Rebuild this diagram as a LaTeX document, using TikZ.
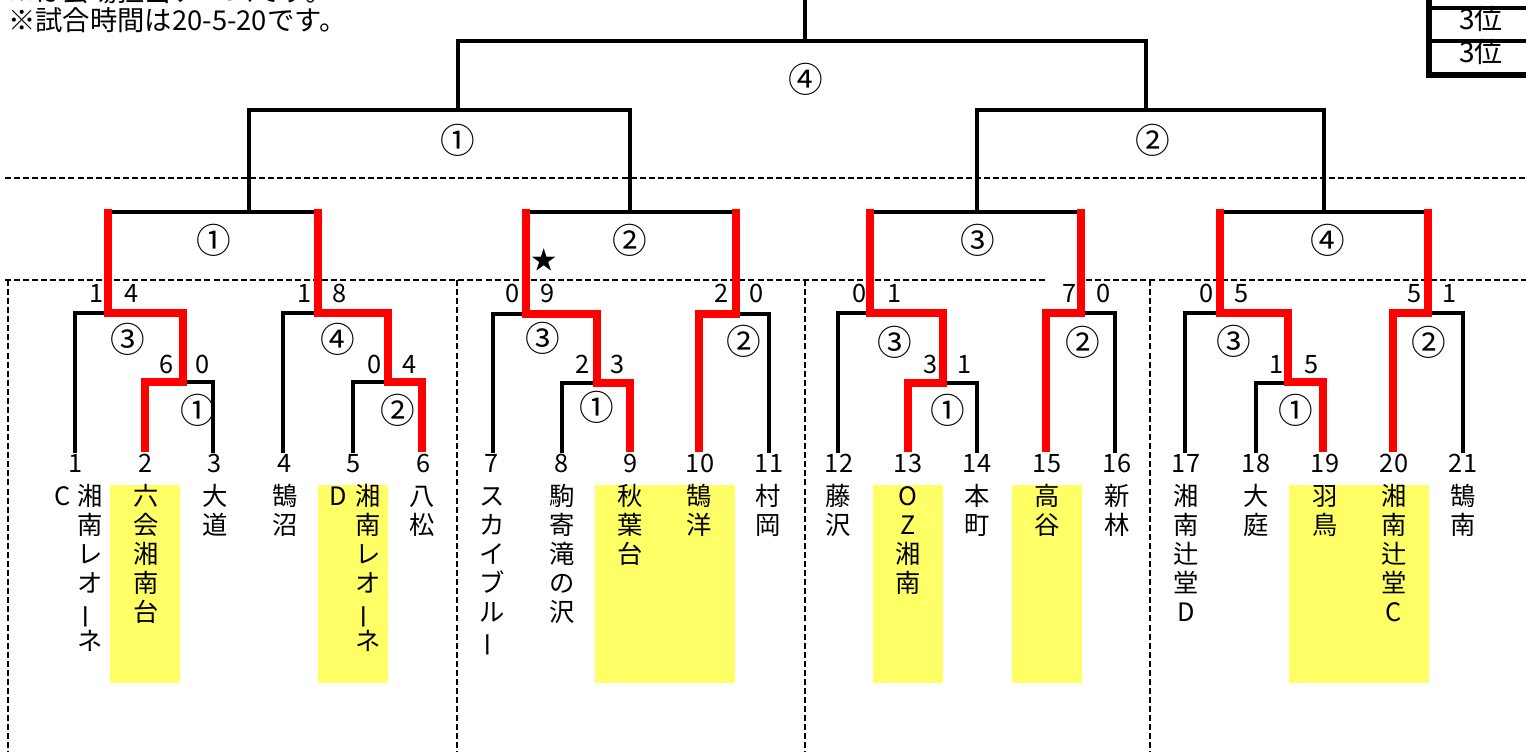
\documentclass[tikz,border=0pt]{standalone}
\usepackage{fontspec}
\setmainfont{Noto Sans CJK JP}
\newcommand\vcol[4]{%
  \foreach \ch [count=\k from 0] in {#4} {\node[tn] (#1-\k) at (#2,{#3+29*\k}) {\ch};}}
\begin{document}
\begin{tikzpicture}[x=0.75pt,y=-0.75pt,
  blk/.style={line width=2.4pt,line join=miter},
  rd/.style={line width=5.5pt,red,line join=miter},
  dsh/.style={line width=2.2pt,dash pattern=on 4.5pt off 2.3pt},
  tn/.style={inner sep=0pt,text height=0.88em,text depth=0.12em,font=\fontsize{19}{19}\selectfont},
  num/.style={tn},
  circ/.style={inner sep=0pt,text height=0.88em,text depth=0.12em,font=\fontsize{26}{26}\selectfont}]
\useasboundingbox (0,0) rectangle (1526,751);
\fill[white] (0,0) rectangle (1526,751);
% highlight boxes
\foreach \a/\b in {110/180,318/388,595/735,873/943,1012/1082,1289/1429}
  \fill[fill={rgb,255:red,255;green,255;blue,102}] (\a,485) rectangle (\b,683);
% notes
\node[anchor=west,tn,font=\fontsize{20.5}{20.5}\selectfont] (note0) at (8,-4) {※は会場担当チームです。};
\node[anchor=west,tn,font=\fontsize{20.5}{20.5}\selectfont] (note1) at (8,25) {※試合時間は20-5-20です。};
% table top right
\draw[line width=3.8pt] (1429,-2) -- (1429,75) -- (1530,75);
\draw[line width=2.4pt] (1429,8) -- (1530,8);
\draw[line width=2.4pt] (1429,41) -- (1530,41);
\node[tn,font=\fontsize{21}{21}\selectfont] (r0) at (1481,-8) {準優勝};
\node[tn,font=\fontsize{21}{21}\selectfont] (r1) at (1481,24) {3位};
\node[tn,font=\fontsize{21}{21}\selectfont] (r2) at (1481,57) {3位};
% dashed lines
\draw[dsh] (5,178) -- (1530,178);
\draw[dsh] (5,280) -- (1045,280);
\draw[dsh] (1086,280) -- (1530,280);
\foreach \x in {8,457,805,1150} \draw[dsh] (\x,280) -- (\x,755);
% top brackets
\draw[blk] (805,-3) -- (805,41);
\draw[blk] (458,110) -- (458,41) -- (1146,41) -- (1146,110);
\draw[blk] (249,212) -- (249,110) -- (630,110) -- (630,212);
\draw[blk] (977,212) -- (977,110) -- (1324,110) -- (1324,212);
\draw[blk] (108,212) -- (318,212);
\draw[blk] (526,212) -- (736,212);
\draw[blk] (870,212) -- (1081,212);
\draw[blk] (1220,212) -- (1428,212);
% first round black
\draw[blk] (75,453) -- (75,313) -- (108,313);
\draw[blk] (183,382) -- (213,382) -- (213,453);
\draw[blk] (283,453) -- (283,313) -- (318,313);
\draw[blk] (353,453) -- (353,382) -- (388,382);
\draw[blk] (493,453) -- (493,314) -- (526,314);
\draw[blk] (562,453) -- (562,383) -- (597,383);
\draw[blk] (736,314) -- (769,314) -- (769,453);
\draw[blk] (838,453) -- (838,313) -- (870,313);
\draw[blk] (943,383) -- (977,383) -- (977,453);
\draw[blk] (1081,313) -- (1115,313) -- (1115,453);
\draw[blk] (1185,453) -- (1185,313) -- (1220,313);
\draw[blk] (1256,453) -- (1256,383) -- (1288,383);
\draw[blk] (1428,313) -- (1463,313) -- (1463,453);
% red winner paths
\draw[rd] (108,209) -- (108,313) -- (183,313) -- (183,382) -- (145,382) -- (145,452);
\draw[rd] (318,209) -- (318,313) -- (388,313) -- (388,382) -- (422,382) -- (422,452);
\draw[rd] (526,209) -- (526,314) -- (597,314) -- (597,383) -- (630,383) -- (630,452);
\draw[rd] (699,452) -- (699,314) -- (736,314) -- (736,209);
\draw[rd] (870,209) -- (870,313) -- (943,313) -- (943,383) -- (908,383) -- (908,452);
\draw[rd] (1046,452) -- (1046,313) -- (1081,313) -- (1081,209);
\draw[rd] (1220,209) -- (1220,313) -- (1288,313) -- (1288,382) -- (1323,382) -- (1323,452);
\draw[rd] (1393,452) -- (1393,313) -- (1428,313) -- (1428,209);
% circled match numbers
\foreach \x/\y/\t [count=\i] in {806/87/④,458/148/①,1153/148/②,214/248/①,630/248/②,978/248/③,1328/248/④,
  128/347/③,198/418/①,338/347/④,398/418/②,543/346/③,597/415/①,744/349/②,
  895/350/③,948/418/①,1083/350/②,1234/349/③,1296/418/①,1429/350/②}
  \node[circ] (c\i) at (\x,\y) {\t};
\node[circ,font=\fontsize{19}{19}\selectfont] (star) at (544,264) {★};
% scores
\foreach \x/\y/\t [count=\i] in {97/297/1,132/297/4,167/368/6,203/368/0,
  305/297/1,340/297/8,375/368/0,410/368/4,
  513/297/0,548/297/9,583/368/2,618/368/3,722/297/2,757/297/0,
  860/297/0,895/297/1,931/368/3,965/368/1,1070/297/7,1104/297/0,
  1207/297/0,1242/297/5,1277/368/1,1312/368/5,1415/297/5,1450/297/1}
  \node[num] (s\i) at (\x,\y) {\t};
% team numbers
\foreach \x [count=\i] in {76,146,215,285,354,424,492,562,631,700,769,839,908,977,1047,1117,1186,1256,1325,1394,1463}
  \node[num] (n\i) at (\x,467) {\i};
% team names
\node[tn] (t1c) at (63,500) {C};
\vcol{t1}{90}{500}{湘,南,レ,オ}
\node[tn,rotate=90] (t1-4) at (90,617) {ー};
\node[tn] (t1-5) at (90,645) {ネ};
\vcol{t2}{146}{500}{六,会,湘,南,台}
\vcol{t3}{215}{500}{大,道}
\vcol{t4}{285}{500}{鵠,沼}
\node[tn] (t5d) at (338,500) {D};
\vcol{t5}{368}{500}{湘,南,レ,オ}
\node[tn,rotate=90] (t5-4) at (368,617) {ー};
\node[tn] (t5-5) at (368,645) {ネ};
\vcol{t6}{422}{500}{八,松}
\vcol{t7}{492}{500}{ス,カ,イ,ブ,ル}
\node[tn,rotate=90] (t7-5) at (492,645) {ー};
\vcol{t8}{562}{500}{駒,寄,滝,の,沢}
\vcol{t9}{630}{500}{秋,葉,台}
\vcol{t10}{699}{500}{鵠,洋}
\vcol{t11}{768}{500}{村,岡}
\vcol{t12}{838}{500}{藤,沢}
\vcol{t13}{908}{500}{O,Z,湘,南}
\vcol{t14}{977}{500}{本,町}
\vcol{t15}{1047}{500}{高,谷}
\vcol{t16}{1117}{500}{新,林}
\vcol{t17}{1186}{500}{湘,南,辻,堂,D}
\vcol{t18}{1256}{500}{大,庭}
\vcol{t19}{1325}{500}{羽,鳥}
\vcol{t20}{1394}{500}{湘,南,辻,堂,C}
\vcol{t21}{1463}{500}{鵠,南}
\end{tikzpicture}
\end{document}
